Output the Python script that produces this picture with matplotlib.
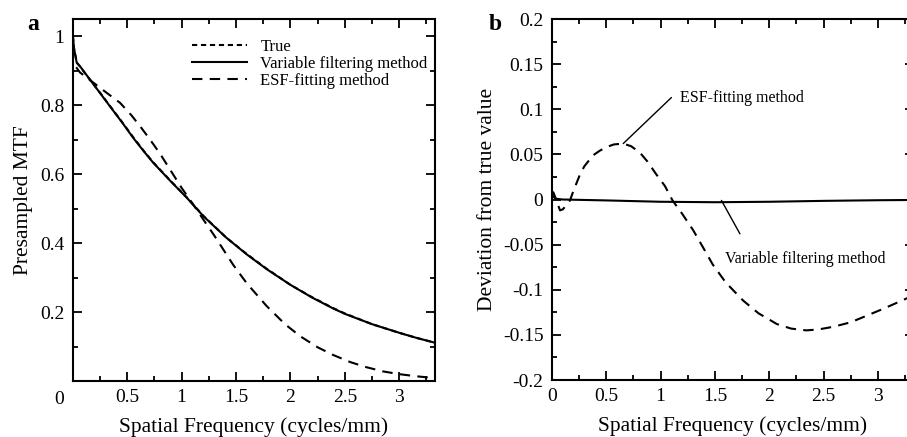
import matplotlib
matplotlib.use("Agg")
import matplotlib.pyplot as plt
from matplotlib.ticker import MultipleLocator

plt.rcParams['font.family'] = ['Liberation Serif', 'DejaVu Serif']

# panel a: presampled MTF curves
freq_true = [0, 0.01, 0.035, 0.065, 0.157, 0.25, 0.34, 0.45, 0.555, 0.65, 0.739, 0.9, 1.046, 1.2, 1.41, 1.6, 1.78, 2.0, 2.2, 2.39, 2.5, 2.75, 3.0, 3.15, 3.33]
mtf_true = [1.0, 0.965, 0.924, 0.912, 0.874, 0.836, 0.798, 0.752, 0.707, 0.668, 0.634, 0.580, 0.533, 0.479, 0.416, 0.368, 0.326, 0.279, 0.243, 0.212, 0.196, 0.165, 0.140, 0.126, 0.111]
freq_var = [0, 0.01, 0.035, 0.065, 0.157, 0.25, 0.34, 0.45, 0.555, 0.65, 0.739, 0.9, 1.046, 1.2, 1.41, 1.6, 1.78, 2.0, 2.2, 2.39, 2.5, 2.75, 3.0, 3.15, 3.33]
mtf_var = [1.0, 0.965, 0.923, 0.913, 0.874, 0.835, 0.797, 0.751, 0.705, 0.667, 0.633, 0.579, 0.532, 0.478, 0.416, 0.367, 0.325, 0.279, 0.242, 0.211, 0.195, 0.165, 0.140, 0.126, 0.111]
freq_esf = [0.03, 0.065, 0.19, 0.31, 0.433, 0.54, 0.632, 0.71, 0.80, 0.9, 1.0, 1.1, 1.2, 1.3, 1.474, 1.6, 1.78, 1.95, 2.09, 2.25, 2.39, 2.55, 2.7, 2.85, 3.0, 3.15, 3.28]
mtf_esf = [0.91, 0.895, 0.865, 0.836, 0.807, 0.77, 0.733, 0.70, 0.66, 0.61, 0.56, 0.515, 0.468, 0.422, 0.337, 0.283, 0.218, 0.165, 0.13, 0.098, 0.076, 0.055, 0.04, 0.028, 0.02, 0.014, 0.01]

# panel b: deviation from the true value
freq_dev_var = [0, 0.01, 0.03, 0.1, 0.5, 1.0, 1.5, 2.0, 2.5, 3.0, 3.33]
dev_var = [0.007, 0.004, 0.001, 0.0, -0.001, -0.0025, -0.003, -0.0025, -0.0015, -0.0008, -0.0005]
freq_dev_esf = [0, 0.014, 0.04, 0.075, 0.1, 0.13, 0.167, 0.2, 0.26, 0.3, 0.38, 0.44, 0.5, 0.57, 0.657, 0.73, 0.81, 0.88, 0.96, 1.04, 1.11, 1.2, 1.3, 1.4, 1.48, 1.6, 1.76, 1.9, 2.07, 2.2, 2.34, 2.45, 2.59, 2.75, 2.89, 3.05, 3.2, 3.33]
dev_esf = [0.005, 0.008, 0.0, -0.012, -0.011, -0.007, -0.001, 0.01, 0.028, 0.037, 0.049, 0.054, 0.058, 0.061, 0.062, 0.059, 0.052, 0.042, 0.028, 0.015, -0.001, -0.016, -0.034, -0.055, -0.072, -0.092, -0.112, -0.126, -0.138, -0.143, -0.145, -0.144, -0.141, -0.136, -0.129, -0.121, -0.113, -0.106]

fig = plt.figure(figsize=(9.07, 4.37), dpi=100)
ax1 = fig.add_axes([0.0804, 0.1281, 0.3992, 0.8284])
ax2 = fig.add_axes([0.6084, 0.1304, 0.3992, 0.8261])

lw = 1.5
ax1.plot(freq_true, mtf_true, color='black', lw=lw, linestyle=(0, (2.5, 1.8)), label='True')
ax1.plot(freq_var, mtf_var, color='black', lw=lw, label='Variable filtering method')
ax1.plot(freq_esf, mtf_esf, color='black', lw=lw, linestyle=(0, (5, 3.5)), label='ESF-fitting method')

ax2.plot(freq_dev_var, dev_var, color='black', lw=lw)
ax2.plot(freq_dev_esf, dev_esf, color='black', lw=lw, linestyle=(0, (5, 3.5)))

for ax in (ax1, ax2):
    ax.set_xlim(0, 3.33)
    ax.xaxis.set_major_locator(MultipleLocator(0.5))
    ax.xaxis.set_minor_locator(MultipleLocator(0.25))
    ax.tick_params(which='both', direction='in', top=True, right=True, labelsize=14, pad=6)
    ax.tick_params(which='major', length=6.5, width=1.3)
    ax.tick_params(which='minor', length=3.5, width=1.3)
    for s in ax.spines.values():
        s.set_linewidth(1.5)
    ax.set_xlabel('Spatial Frequency (cycles/mm)', fontsize=15.5, labelpad=8)
    ax.set_xticks([0, 0.5, 1, 1.5, 2, 2.5, 3])
    ax.set_xticklabels(['0', '0.5', '1', '1.5', '2', '2.5', '3'])

# panel a
ax1.set_ylim(0, 1.05)
ax1.yaxis.set_minor_locator(MultipleLocator(0.1))
ax1.set_yticks([0.2, 0.4, 0.6, 0.8, 1.0])
ax1.set_yticklabels(['0.2', '0.4', '0.6', '0.8', '1'])
ax1.set_xticklabels(['', '0.5', '1', '1.5', '2', '2.5', '3'])
ax1.text(-0.13, -0.05, '0', transform=ax1.get_xaxis_transform(), fontsize=14,
         ha='center', va='center')
ax1.set_ylabel('Presampled MTF', fontsize=15.5, labelpad=5)
ax1.legend(loc='upper right', bbox_to_anchor=(1.012, 0.978), frameon=False, fontsize=12,
           handlelength=3.3, handletextpad=0.8, labelspacing=0.06, borderaxespad=0.3)
fig.text(33 / 907, 1 - 25 / 437, 'a', fontsize=17, fontweight='bold', ha='center', va='center')

# panel b
ax2.set_ylim(-0.2, 0.2)
ax2.yaxis.set_minor_locator(MultipleLocator(0.025))
ax2.set_yticks([-0.2, -0.15, -0.1, -0.05, 0, 0.05, 0.1, 0.15, 0.2])
ax2.set_yticklabels(['-0.2', '-0.15', '-0.1', '-0.05', '0', '0.05', '0.1', '0.15', '0.2'])
ax2.set_ylabel('Deviation from true value', fontsize=15.5, labelpad=4)

# leader lines and their labels
ax2.annotate('', xy=(0.657, 0.062), xytext=(1.10, 0.113),
             arrowprops=dict(arrowstyle='-', color='black', lw=1.0, shrinkA=0, shrinkB=0))
ax2.text(1.18, 0.113, 'ESF-fitting method', fontsize=11.5, va='center', ha='left')
ax2.annotate('', xy=(1.56, -0.001), xytext=(1.73, -0.038),
             arrowprops=dict(arrowstyle='-', color='black', lw=1.0, shrinkA=0, shrinkB=0))
ax2.text(1.59, -0.066, 'Variable filtering method', fontsize=11.5, va='center', ha='left')
fig.text(495.7 / 907, 1 - 25 / 437, 'b', fontsize=17, fontweight='bold', ha='center', va='center')

fig.savefig('out.png', dpi=100)
